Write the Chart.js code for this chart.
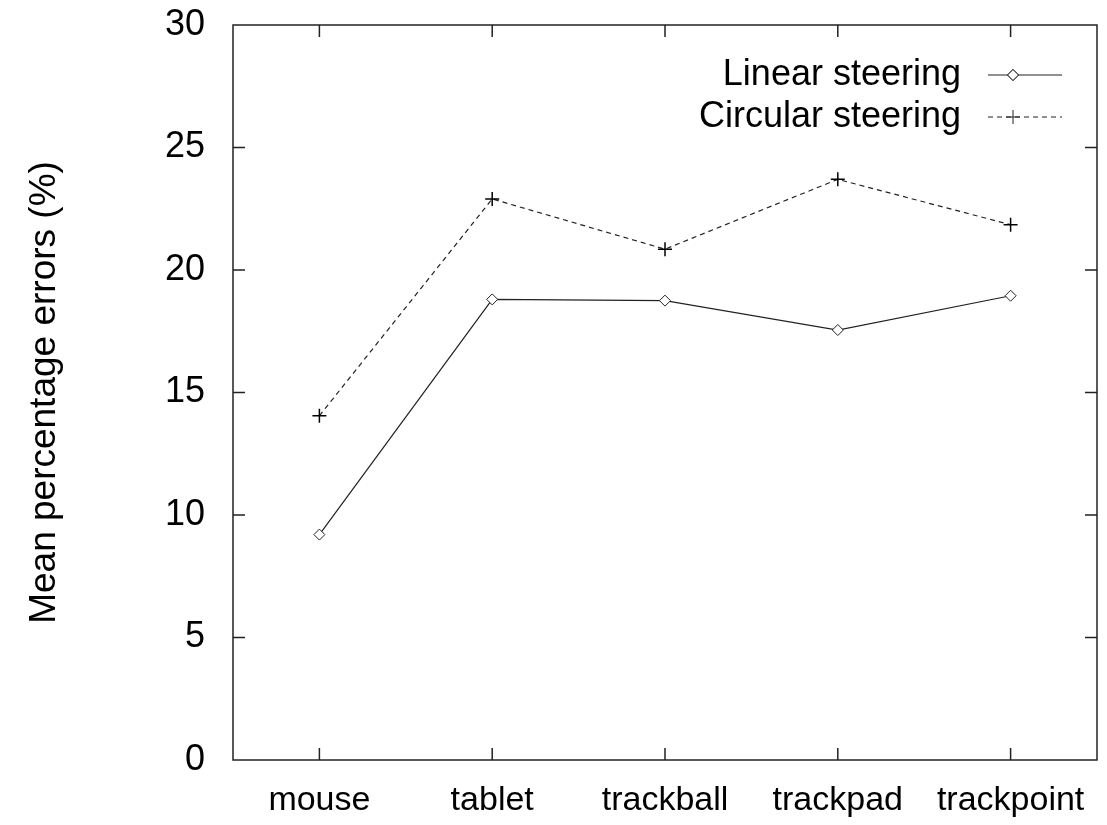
<!DOCTYPE html>
<html>
<head>
<meta charset="utf-8">
<script src="https://cdn.jsdelivr.net/npm/chart.js@4.4.1/dist/chart.umd.min.js"></script>
<style>
  html, body { margin: 0; padding: 0; background: #fff; }
  #wrap { width: 1107px; height: 825px; }
</style>
</head>
<body>
<div id="wrap"><canvas id="myChart" width="1107" height="825"></canvas></div>
<script>
const devices = ['mouse', 'tablet', 'trackball', 'trackpad', 'trackpoint'];
const linearErrors = [9.2, 18.8, 18.75, 17.55, 18.95];
const circularErrors = [14.05, 22.9, 20.85, 23.7, 21.85];
const yTicks = [0, 5, 10, 15, 20, 25, 30];

const FONT = '"Liberation Sans", Arial, sans-serif';
const INK = '#222';

// gnuplot style frame: box + inward ticks on all four sides, legend in top right
const framePlugin = {
    id: 'frame',
    afterDatasetsDraw(chart) {
        const ctx = chart.ctx;
        const a = chart.chartArea;
        const xs = chart.scales.x;
        const ys = chart.scales.y;
        const t = 12;
        ctx.save();
        ctx.strokeStyle = INK;
        ctx.lineWidth = 1.5;
        ctx.setLineDash([]);
        ctx.strokeRect(a.left, a.top, a.right - a.left, a.bottom - a.top);
        ctx.beginPath();
        yTicks.forEach(v => {
            const py = ys.getPixelForValue(v);
            if (v === 0 || v === 30) return;
            ctx.moveTo(a.left, py); ctx.lineTo(a.left + t, py);
            ctx.moveTo(a.right, py); ctx.lineTo(a.right - t, py);
        });
        devices.forEach((d, i) => {
            const px = xs.getPixelForValue(i);
            ctx.moveTo(px, a.bottom); ctx.lineTo(px, a.bottom - t);
            ctx.moveTo(px, a.top); ctx.lineTo(px, a.top + t);
        });
        ctx.stroke();

        // legend
        ctx.font = '36px ' + FONT;
        ctx.fillStyle = '#000';
        ctx.textAlign = 'right';
        ctx.textBaseline = 'middle';
        const rows = [
            {label: 'Linear steering', y: 75, ds: chart.data.datasets[0]},
            {label: 'Circular steering', y: 117, ds: chart.data.datasets[1]}
        ];
        rows.forEach(r => {
            ctx.fillText(r.label, 961, r.y);
            ctx.lineWidth = 1;
            ctx.setLineDash(r.ds.borderDash || []);
            ctx.beginPath();
            ctx.moveTo(988, r.y); ctx.lineTo(1062, r.y);
            ctx.stroke();
            ctx.setLineDash([]);
            Chart.helpers.drawPoint(ctx, {
                pointStyle: r.ds.pointStyle,
                radius: r.ds.pointRadius,
                borderWidth: 1
            }, 1013, r.y);
            if (r.ds.pointStyle === 'rectRot') {
                ctx.fillStyle = '#fff';
                ctx.fill();
                ctx.stroke();
                ctx.fillStyle = '#000';
            }
        });
        ctx.restore();
    }
};

const ctx = document.getElementById('myChart');
var mychart = new Chart(ctx, {
    type: 'line',
    data: {
        labels: devices,
        datasets: [
            {
                label: 'Linear steering',
                data: linearErrors,
                borderColor: INK,
                borderWidth: 1.2,
                pointStyle: 'rectRot',
                pointRadius: 5.5,
                pointBackgroundColor: '#fff',
                pointBorderColor: INK,
                pointBorderWidth: 1,
                tension: 0
            },
            {
                label: 'Circular steering',
                data: circularErrors,
                borderColor: INK,
                borderWidth: 1.2,
                borderDash: [5, 4],
                pointStyle: 'cross',
                pointRadius: 7,
                pointBorderColor: '#000',
                pointBorderWidth: 1.5,
                tension: 0
            }
        ]
    },
    options: {
        responsive: false,
        animation: false,
        layout: { padding: { top: 25, right: 10, left: 0, bottom: 0 } },
        plugins: {
            legend: { display: false },
            tooltip: { enabled: false }
        },
        scales: {
            x: {
                type: 'category',
                offset: true,
                grid: { display: false },
                border: { display: false },
                ticks: {
                    color: '#000',
                    font: { family: FONT, size: 34 },
                    padding: 12,
                    maxRotation: 0,
                    autoSkip: false
                },
                afterFit(scale) {
                    scale.height = 65;
                    scale.paddingLeft = 0;
                    scale.paddingRight = 0;
                }
            },
            y: {
                min: 0,
                max: 30,
                grid: { display: false },
                border: { display: false },
                afterBuildTicks(scale) { scale.ticks = yTicks.map(v => ({ value: v })); },
                ticks: {
                    color: '#000',
                    font: { family: FONT, size: 36 },
                    padding: 20
                },
                title: {
                    display: true,
                    text: 'Mean percentage errors (%)',
                    color: '#000',
                    font: { family: FONT, size: 37 },
                    padding: { top: 23, bottom: 0 }
                },
                afterFit(scale) {
                    scale.width = 233;
                    scale.paddingTop = 0;
                    scale.paddingBottom = 0;
                }
            }
        }
    },
    plugins: [framePlugin]
});
</script>
</body>
</html>
